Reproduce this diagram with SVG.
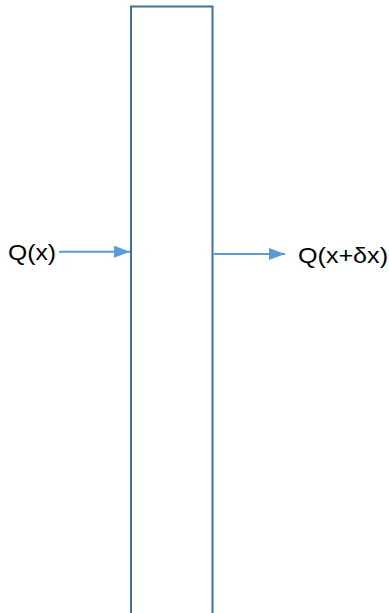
<svg xmlns="http://www.w3.org/2000/svg" width="389" height="613" viewBox="0 0 389 613">
<style>
.lbl{font-family:"Liberation Sans",Arial,sans-serif;font-size:22px;fill:#000}
.conn{stroke:#5B9BD5;stroke-width:2;fill:none}
</style>
<defs>
<marker id="ah" viewBox="0 0 16 12" refX="16" refY="6" markerWidth="16" markerHeight="12" markerUnits="userSpaceOnUse" orient="auto">
<path d="M0,0 L16,6 L0,12 Z" fill="#5B9BD5"/>
</marker>
</defs>
<rect width="389" height="613" fill="#fff"/>
<g id="column">
<path d="M131,613 V6.5 H212.5 V613" fill="#fff" stroke="#41719C" stroke-width="2"/>
</g>
<g id="connectors">
<line class="conn" x1="59" y1="251.7" x2="130" y2="251.7" marker-end="url(#ah)"/>
<line class="conn" x1="213.5" y1="254" x2="285" y2="254" marker-end="url(#ah)"/>
</g>
<g id="label-in">
<text class="lbl" x="8" y="260" textLength="48" lengthAdjust="spacingAndGlyphs">Q(x)</text>
</g>
<g id="label-out">
<text class="lbl" x="298" y="263" textLength="90" lengthAdjust="spacingAndGlyphs">Q(x+δx)</text>
</g>
</svg>
